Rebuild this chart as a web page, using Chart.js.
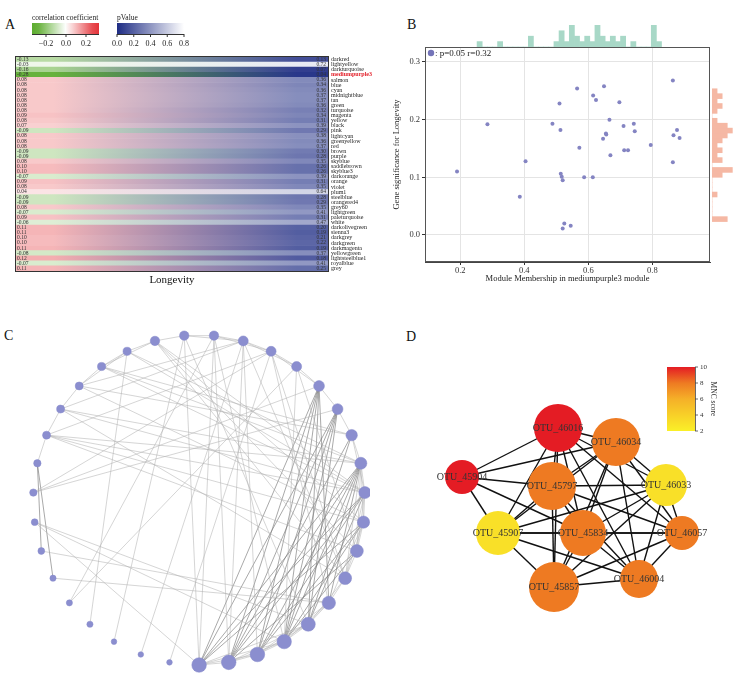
<!DOCTYPE html>
<html>
<head>
<meta charset="utf-8">
<script src="https://cdn.jsdelivr.net/npm/chart.js@4.4.1/dist/chart.umd.min.js"></script>
<style>
  body { margin: 0; background: #fff; width: 743px; height: 681px; position: relative; overflow: hidden; }
  canvas { position: absolute; }
  .tag { position: absolute; font: 14px/14px 'Liberation Serif', serif; color: #111; }
</style>
</head>
<body>
<div class="tag" style="left:5px;top:18px">A</div>
<div class="tag" style="left:407px;top:18px">B</div>
<div class="tag" style="left:4px;top:329px">C</div>
<div class="tag" style="left:406px;top:330px">D</div>

<canvas id="heatA" width="385" height="290" style="left:0;top:0"></canvas>
<canvas id="scatterB" width="358" height="290" style="left:385px;top:0"></canvas>
<canvas id="histTopB" width="285" height="23" style="left:425px;top:24px"></canvas>
<canvas id="histRightB" width="28" height="215" style="left:712px;top:47px"></canvas>
<canvas id="netC" width="370" height="381" style="left:0;top:300px"></canvas>
<canvas id="netD" width="373" height="381" style="left:370px;top:300px"></canvas>

<script>
// ---------- A: module-trait heatmap
const modules = ['darkred', 'lightyellow', 'darkturquoise', 'mediumpurple3', 'salmon', 'blue', 'cyan', 'midnightblue', 'tan', 'green',
  'turquoise', 'magenta', 'yellow', 'black', 'pink', 'lightcyan', 'greenyellow', 'red', 'brown', 'purple',
  'skyblue', 'saddlebrown', 'skyblue3', 'darkorange', 'orange', 'violet', 'plum1', 'steelblue', 'orangered4', 'grey60',
  'lightgreen', 'paleturquoise', 'white', 'darkolivegreen', 'sienna3', 'darkgrey', 'darkgreen', 'darkmagenta', 'yellowgreen', 'lightsteelblue1',
  'royalblue', 'grey']
const corrValues = [-0.13, -0.03, -0.16, -0.28, 0.08, 0.08, 0.08, 0.08, 0.08, 0.08,
  0.08, 0.09, 0.08, 0.07, -0.09, 0.08, 0.08, 0.08, -0.09, -0.09,
  0.08, 0.10, 0.10, -0.07, 0.09, 0.08, 0.04, -0.09, -0.09, 0.08,
  -0.07, 0.09, -0.06, 0.11, 0.11, 0.10, 0.10, 0.11, -0.08, 0.12,
  -0.07, 0.11]
const pValues = [0.13, 0.72, 0.07, 0.04, 0.36, 0.34, 0.36, 0.37, 0.37, 0.36,
  0.32, 0.34, 0.31, 0.39, 0.29, 0.38, 0.36, 0.37, 0.30, 0.28,
  0.35, 0.26, 0.26, 0.39, 0.31, 0.35, 0.64, 0.28, 0.29, 0.35,
  0.41, 0.31, 0.47, 0.20, 0.19, 0.21, 0.22, 0.19, 0.37, 0.18,
  0.41, 0.25]
const highlightModule = 'mediumpurple3'
const corrTicks = [-0.2, 0.0, 0.2]
const pTicks = [0.0, 0.2, 0.4, 0.6, 0.8]

// ---------- B: MM vs GS scatter + marginal histograms
const mmValues = [0.19, 0.285, 0.386, 0.404, 0.488, 0.51, 0.513, 0.565, 0.572, 0.514,
  0.517, 0.52, 0.587, 0.614, 0.52, 0.525, 0.545, 0.615, 0.624, 0.649,
  0.666, 0.655, 0.656, 0.646, 0.669, 0.697, 0.71, 0.742, 0.745, 0.712,
  0.724, 0.795, 0.864, 0.866, 0.877, 0.885, 0.864]
const gsValues = [0.110, 0.192, 0.066, 0.128, 0.193, 0.228, 0.182, 0.254, 0.151, 0.106,
  0.101, 0.095, 0.100, 0.100, 0.011, 0.020, 0.016, 0.242, 0.234, 0.258,
  0.200, 0.176, 0.174, 0.167, 0.138, 0.230, 0.189, 0.193, 0.180, 0.147,
  0.147, 0.156, 0.268, 0.173, 0.182, 0.168, 0.126]
const xTicksB = [0.2, 0.4, 0.6, 0.8]
const yTicksB = [0.0, 0.1, 0.2, 0.3]
const topBinStart = 0.192, topBinWidth = 0.02
const topBinCounts = [1, 0, 0, 0, 1, 0, 0, 0, 0, 0, 2, 0, 0, 0, 0, 1, 3, 1, 4, 2,
  1, 2, 1, 4, 2, 1, 2, 1, 2, 0, 1, 0, 0, 0, 4, 1]
const rightBinStart = 0.0134, rightBinWidth = 0.0096
const rightBinCounts = [3, 0, 0, 0, 0, 1, 0, 0, 0, 2, 4, 0, 2, 1, 2, 1, 2, 3, 4, 3,
  1, 0, 1, 2, 1, 2, 1]
const legendB = ': p=0.05 r=0.32'

// ---------- C: circular co-occurrence network (nodes ordered round the ring)
const nodeSizeC = [7.3, 7.3, 7.3, 7.2, 7, 6.7, 6.4, 6.4, 6.1, 6, 6, 5.7, 5.4, 5.4, 5, 5, 5, 4.7, 4.7, 4.7,
  4.1, 4.1, 4, 4, 4, 3.7, 3.7, 3.4, 3.4, 3.1, 3.1, 3.1, 2.8, 2.8, 2.8]
const edgesDarkC = [[13, 0], [13, 1], [13, 2], [13, 3], [13, 4], [13, 5], [12, 0], [12, 1], [12, 2], [12, 3], [12, 4],
  [10, 0], [10, 1], [10, 2], [10, 3], [10, 4], [10, 5], [9, 0], [9, 1], [9, 2], [9, 4], [11, 1], [11, 3],
  [8, 0], [8, 2], [8, 3], [7, 1], [7, 3], [25, 29], [25, 28]]
const edgesLightC = [[0, 1], [1, 2], [2, 3], [3, 4], [4, 5], [5, 6], [6, 7], [7, 8], [8, 9], [9, 10], [10, 11], [11, 12], [12, 13], [13, 14],
  [0, 2], [1, 3], [2, 4], [3, 5], [4, 6], [0, 3], [1, 4], [2, 5], [0, 4], [6, 8], [7, 9], [8, 10], [9, 11], [6, 9], [6, 10], [7, 10], [5, 8],
  [18, 0], [17, 0], [17, 1], [16, 1], [16, 2], [19, 6], [19, 7], [19, 8], [19, 9], [20, 9], [20, 10], [21, 10], [21, 9], [21, 11],
  [22, 11], [22, 8], [15, 5], [15, 6], [14, 7], [14, 3], [16, 6], [17, 3], [18, 4],
  [24, 9], [24, 8], [24, 7], [24, 10], [23, 10], [23, 9], [23, 6], [26, 12], [26, 13], [27, 3], [27, 4], [28, 5],
  [16, 23], [16, 22], [15, 26], [15, 24], [31, 20], [30, 17], [32, 18], [33, 16], [34, 15], [30, 14], [29, 5], [27, 0],
  [18, 19], [19, 20], [20, 21], [21, 22], [17, 18], [16, 17], [15, 16], [14, 15], [22, 23], [23, 24], [24, 25],
  [16, 18], [15, 17], [14, 16], [13, 15], [19, 21], [20, 22]]

// ---------- D: MNC top-10 hub network
const hubNames = ['OTU_46016', 'OTU_46034', 'OTU_45904', 'OTU_45797', 'OTU_46033', 'OTU_45907', 'OTU_45834', 'OTU_46057', 'OTU_45857', 'OTU_46004']
const hubScores = [10, 8, 10, 8, 3, 3, 8, 8, 8, 8]
const hubSizes = [24, 24, 17, 24, 21, 22, 23, 17, 25, 19]
const hubLayoutX = [18.8, 24.6, 9.2, 18.2, 29.6, 12.8, 21.3, 31.2, 18.4, 26.9]
const hubLayoutY = [12.8, 14.2, 17.7, 18.6, 18.5, 23.3, 23.3, 23.3, 28.7, 27.9]
const hubEdges = [[2, 0], [2, 1], [2, 3], [2, 5], [2, 6],
  [0, 1], [0, 3], [0, 4], [0, 5], [0, 6], [0, 7], [0, 8], [0, 9],
  [1, 3], [1, 4], [1, 5], [1, 6], [1, 7], [1, 8], [1, 9],
  [3, 4], [3, 5], [3, 6], [3, 7], [3, 8], [3, 9],
  [4, 5], [4, 6], [4, 7], [4, 8], [4, 9],
  [5, 6], [5, 7], [5, 8], [5, 9],
  [6, 7], [6, 8], [6, 9], [7, 8], [7, 9], [8, 9]]
const mncTicks = [10, 8, 6, 4, 2]

Chart.defaults.font.family = "'Liberation Serif', serif"
Chart.defaults.color = '#222'
Chart.defaults.animation = false
Chart.defaults.events = []
Chart.defaults.plugins.legend.display = false
Chart.defaults.plugins.tooltip.enabled = false
Chart.defaults.responsive = false

const serif = size => `${size}px 'Liberation Serif', serif`
const mix = (a, b, t) => a.map((v, i) => Math.round(v + (b[i] - v) * t))
const rgb = c => `rgb(${c[0]},${c[1]},${c[2]})`

// bubble charts inset the chart area by the biggest radius, so shrink the
// axis range to keep the whole canvas mapped onto the layout range
function fullRange(min, max, sizePx, padPx) {
  const u = (max - min) / sizePx
  return { min: min + padPx * u, max: max - padPx * u }
}

const corrMin = -0.34, corrMax = 0.33
function corrColor(v) {
  if (v < 0) return rgb(mix([255, 255, 255], [92, 172, 46], Math.min(1, -v / 0.3)))
  return rgb(mix([255, 255, 255], [228, 52, 58], Math.min(1, v / 0.3)))
}
function pColor(p) {
  return rgb(mix([30, 44, 132], [255, 255, 255], Math.min(1, p / 0.8)))
}

const heatTextPlugin = {
  id: 'heatText',
  afterDatasetsDraw(chart) {
    const { ctx, chartArea: a, scales: { y } } = chart
    ctx.save()
    ctx.strokeStyle = '#333'
    ctx.lineWidth = 1
    ctx.strokeRect(a.left - 0.5, a.top - 0.5, a.right - a.left + 1, a.bottom - a.top + 1)
    ctx.textBaseline = 'middle'
    modules.forEach((m, i) => {
      const py = y.getPixelForValue(i)
      ctx.font = serif(5.5)
      ctx.fillStyle = '#333'
      ctx.textAlign = 'left'
      ctx.fillText(corrValues[i].toFixed(2), a.left + 1, py)
      ctx.textAlign = 'right'
      ctx.fillText(pValues[i].toFixed(2), a.right - 2, py)
      ctx.textAlign = 'left'
      const hl = m === highlightModule
      ctx.font = hl ? `bold ${serif(6)}` : serif(6)
      ctx.fillStyle = hl ? '#e3202a' : '#222'
      ctx.fillText(m, a.right + 3, py)
    })
    ctx.font = serif(11)
    ctx.fillStyle = '#111'
    ctx.textAlign = 'center'
    ctx.fillText('Longevity', (a.left + a.right) / 2, 280)

    // colour keys
    const barTop = 23, barH = 11
    const cx0 = 32, cx1 = 99
    const cg = ctx.createLinearGradient(cx0, 0, cx1, 0)
    for (let k = 0; k <= 10; k++) {
      const v = corrMin + (corrMax - corrMin) * k / 10
      cg.addColorStop(k / 10, corrColor(v))
    }
    ctx.fillStyle = cg
    ctx.fillRect(cx0, barTop, cx1 - cx0, barH)
    const px0 = 117, px1 = 184
    const pg = ctx.createLinearGradient(px0, 0, px1, 0)
    pg.addColorStop(0, pColor(0))
    pg.addColorStop(1, pColor(0.8))
    ctx.fillStyle = pg
    ctx.fillRect(px0, barTop, px1 - px0, barH)

    ctx.font = serif(7.5)
    ctx.fillStyle = '#222'
    ctx.textAlign = 'left'
    ctx.textBaseline = 'alphabetic'
    ctx.fillText('correlation coefficient', cx0, 20)
    ctx.fillText('pValue', px0, 20)

    ctx.strokeStyle = '#333'
    ctx.beginPath()
    ctx.moveTo(cx0, barTop + barH + 0.5); ctx.lineTo(cx1, barTop + barH + 0.5)
    ctx.moveTo(px0, barTop + barH + 0.5); ctx.lineTo(px1, barTop + barH + 0.5)
    ctx.stroke()
    ctx.font = serif(8)
    ctx.textAlign = 'center'
    ctx.textBaseline = 'middle'
    corrTicks.forEach(t => {
      const x = cx0 + (t - corrMin) / (corrMax - corrMin) * (cx1 - cx0)
      ctx.beginPath(); ctx.moveTo(x, barTop + barH); ctx.lineTo(x, barTop + barH + 3); ctx.stroke()
      ctx.fillText((t < 0 ? '\u2212' : '') + Math.abs(t).toFixed(1), x, 44)
    })
    pTicks.forEach(t => {
      const x = px0 + t / 0.8 * (px1 - px0)
      ctx.beginPath(); ctx.moveTo(x, barTop + barH); ctx.lineTo(x, barTop + barH + 3); ctx.stroke()
      ctx.fillText(t.toFixed(1), x, 44)
    })
    ctx.restore()
  }
}

new Chart(document.getElementById('heatA'), {
  type: 'bar',
  data: {
    labels: modules,
    datasets: [{
      data: modules.map(() => [0, 1]),
      categoryPercentage: 1,
      barPercentage: 1,
      borderWidth: 0,
      backgroundColor: c => {
        const a = c.chart.chartArea
        if (!a) return '#ccc'
        const g = c.chart.ctx.createLinearGradient(a.left, 0, a.right, 0)
        g.addColorStop(0, corrColor(corrValues[c.dataIndex]))
        g.addColorStop(0.12, corrColor(corrValues[c.dataIndex]))
        g.addColorStop(0.9, pColor(pValues[c.dataIndex]))
        g.addColorStop(1, pColor(pValues[c.dataIndex]))
        return g
      }
    }]
  },
  options: {
    indexAxis: 'y',
    layout: { padding: { left: 16, top: 57, right: 57, bottom: 19 } },
    scales: {
      x: { display: false, min: 0, max: 1 },
      y: { display: false }
    }
  },
  plugins: [heatTextPlugin]
})

// ---------- B
const boxPlugin = {
  id: 'boxB',
  afterDraw(chart) {
    const { ctx, chartArea: a } = chart
    ctx.save()
    ctx.strokeStyle = '#555'
    ctx.lineWidth = 1
    ctx.strokeRect(a.left + 0.5, a.top + 0.5, a.right - a.left - 1, a.bottom - a.top - 1)
    ctx.fillStyle = '#7474b8'
    ctx.beginPath()
    ctx.arc(a.left + 6, a.top + 6, 3.2, 0, Math.PI * 2)
    ctx.fill()
    ctx.fillStyle = '#222'
    ctx.font = serif(9)
    ctx.textAlign = 'left'
    ctx.textBaseline = 'middle'
    ctx.fillText(legendB, a.left + 10, a.top + 6.5)
    ctx.restore()
  }
}

new Chart(document.getElementById('scatterB'), {
  type: 'scatter',
  data: {
    datasets: [{
      data: mmValues.map((x, i) => ({ x, y: gsValues[i] })),
      pointRadius: 2,
      pointBackgroundColor: '#8484c2',
      pointBorderWidth: 0
    }]
  },
  options: {
    layout: { padding: { top: 47, right: 33, left: 0, bottom: 0 } },
    scales: {
      x: {
        min: 0.09, max: 0.98,
        afterBuildTicks: s => { s.ticks = xTicksB.map(value => ({ value })) },
        afterFit: s => { s.height = 28 },
        grid: { color: '#e4e4e4', tickColor: '#333', tickLength: 3 },
        border: { color: '#444' },
        ticks: { font: { size: 8.5 }, color: '#333', padding: 1, callback: v => v.toFixed(1) },
        title: { display: true, text: 'Module Membership in mediumpurple3 module', font: { size: 8.5 }, color: '#222', padding: { top: 0, bottom: 6 } }
      },
      y: {
        min: -0.047, max: 0.326,
        afterBuildTicks: s => { s.ticks = yTicksB.map(value => ({ value })) },
        afterFit: s => { s.width = 40 },
        grid: { color: '#e4e4e4', tickColor: '#333', tickLength: 3 },
        border: { color: '#444' },
        ticks: { font: { size: 8.5 }, color: '#333', padding: 2, callback: v => v.toFixed(1) },
        title: { display: true, text: 'Gene significance for Longevity', font: { size: 8.5 }, color: '#222', padding: { top: 7, bottom: 0 } }
      }
    }
  },
  plugins: [boxPlugin]
})

new Chart(document.getElementById('histTopB'), {
  type: 'bar',
  data: {
    datasets: [{
      data: topBinCounts.map((n, k) => ({ x: topBinStart + topBinWidth * k, y: n })),
      backgroundColor: '#a8d8c7',
      borderWidth: 0,
      categoryPercentage: 1,
      barPercentage: 1
    }]
  },
  options: {
    scales: {
      x: { type: 'linear', min: 0.09, max: 0.98, display: false },
      y: { min: 0, max: 4.25, display: false }
    }
  }
})

new Chart(document.getElementById('histRightB'), {
  type: 'bar',
  data: {
    datasets: [{
      data: rightBinCounts.map((n, k) => ({ y: rightBinStart + rightBinWidth * k, x: n })),
      backgroundColor: '#f5b8a4',
      borderWidth: 0,
      categoryPercentage: 1,
      barPercentage: 1
    }]
  },
  options: {
    indexAxis: 'y',
    scales: {
      y: { type: 'linear', min: -0.047, max: 0.326, display: false },
      x: { min: 0, max: 5.5, display: false }
    }
  }
})

// ---------- C: ring layout
const ringN = nodeSizeC.length
const ringPos = nodeSizeC.map((_, i) => {
  const ang = (-90 + i * 360 / ringN) * Math.PI / 180
  return { x: Math.cos(ang), y: Math.sin(ang) }
})
const edgeDataset = (pair, color, width) => ({
  type: 'scatter',
  data: [ringPos[pair[0]], ringPos[pair[1]]],
  showLine: true,
  pointRadius: 0,
  borderColor: color,
  borderWidth: width,
  clip: false,
  order: 1
})
const nodeBorderC = 0.5
const padC = Math.max(...nodeSizeC) + nodeBorderC

new Chart(document.getElementById('netC'), {
  type: 'scatter',
  data: {
    datasets: [
      {
        type: 'bubble',
        data: ringPos.map((p, i) => ({ x: p.x, y: p.y, r: nodeSizeC[i] })),
        backgroundColor: '#8b8ecf',
        borderColor: '#8589cb',
        borderWidth: nodeBorderC,
        clip: false,
        order: 0
      },
      ...edgesLightC.map(e => edgeDataset(e, 'rgba(175,175,175,0.75)', 0.7)),
      ...edgesDarkC.map(e => edgeDataset(e, 'rgba(120,120,120,0.8)', 0.8))
    ]
  },
  options: {
    scales: {
      x: { ...fullRange(-1.2, 1.03, 370, padC), display: false },
      y: { ...fullRange(-1.097, 1.212, 381, padC), display: false }
    }
  }
})

// ---------- D: hub network
const mncStops = [[0, [250, 240, 40]], [0.5, [245, 176, 40]], [0.75, [238, 122, 34]], [1, [228, 28, 36]]]
function mncColor(s) {
  const t = Math.max(0, Math.min(1, (s - 2) / 8))
  for (let k = 1; k < mncStops.length; k++) {
    if (t <= mncStops[k][0]) {
      const [t0, c0] = mncStops[k - 1], [t1, c1] = mncStops[k]
      return rgb(mix(c0, c1, (t - t0) / (t1 - t0)))
    }
  }
  return rgb(mncStops[mncStops.length - 1][1])
}

const hubPlugin = {
  id: 'hubLabels',
  afterDatasetsDraw(chart) {
    const { ctx, scales: { x, y } } = chart
    ctx.save()
    ctx.font = serif(10)
    ctx.fillStyle = '#333'
    ctx.textAlign = 'center'
    ctx.textBaseline = 'middle'
    hubNames.forEach((n, i) => {
      ctx.fillText(n, x.getPixelForValue(hubLayoutX[i]), y.getPixelForValue(hubLayoutY[i]))
    })
    // colour key
    const bx = 297, by = 67, bw = 28, bh = 64
    const g = ctx.createLinearGradient(0, by, 0, by + bh)
    for (let k = 0; k <= 8; k++) g.addColorStop(k / 8, mncColor(10 - k))
    ctx.fillStyle = g
    ctx.fillRect(bx, by, bw, bh)
    ctx.strokeStyle = '#444'
    ctx.lineWidth = 0.8
    ctx.beginPath()
    ctx.moveTo(bx + bw + 0.5, by); ctx.lineTo(bx + bw + 0.5, by + bh)
    ctx.stroke()
    ctx.font = serif(7)
    ctx.fillStyle = '#333'
    ctx.textAlign = 'left'
    mncTicks.forEach(t => {
      const ty = by + bh - (t - 2) / 8 * bh
      ctx.beginPath(); ctx.moveTo(bx + bw, ty); ctx.lineTo(bx + bw + 3, ty); ctx.stroke()
      ctx.fillText(String(t), bx + bw + 5, ty)
    })
    ctx.translate(bx + bw + 18, by + bh / 2)
    ctx.rotate(Math.PI / 2)
    ctx.textAlign = 'center'
    ctx.font = serif(7.5)
    ctx.fillText('MNC score', 0, 0)
    ctx.restore()
  }
}

const padD = Math.max(...hubSizes)

new Chart(document.getElementById('netD'), {
  type: 'scatter',
  data: {
    datasets: [
      {
        type: 'bubble',
        data: hubNames.map((_, i) => ({ x: hubLayoutX[i], y: hubLayoutY[i], r: hubSizes[i] })),
        backgroundColor: hubScores.map(mncColor),
        borderWidth: 0,
        clip: false,
        order: 0
      },
      ...hubEdges.map(e => ({
        type: 'scatter',
        data: [{ x: hubLayoutX[e[0]], y: hubLayoutY[e[0]] }, { x: hubLayoutX[e[1]], y: hubLayoutY[e[1]] }],
        showLine: true,
        pointRadius: 0,
        borderColor: '#111',
        borderWidth: 1.4,
        clip: false,
        order: 1
      }))
    ]
  },
  options: {
    scales: {
      x: { ...fullRange(0, 37.3, 373, padD), display: false },
      y: { ...fullRange(0, 38.1, 381, padD), reverse: true, display: false }
    }
  },
  plugins: [hubPlugin]
})
</script>
</body>
</html>
